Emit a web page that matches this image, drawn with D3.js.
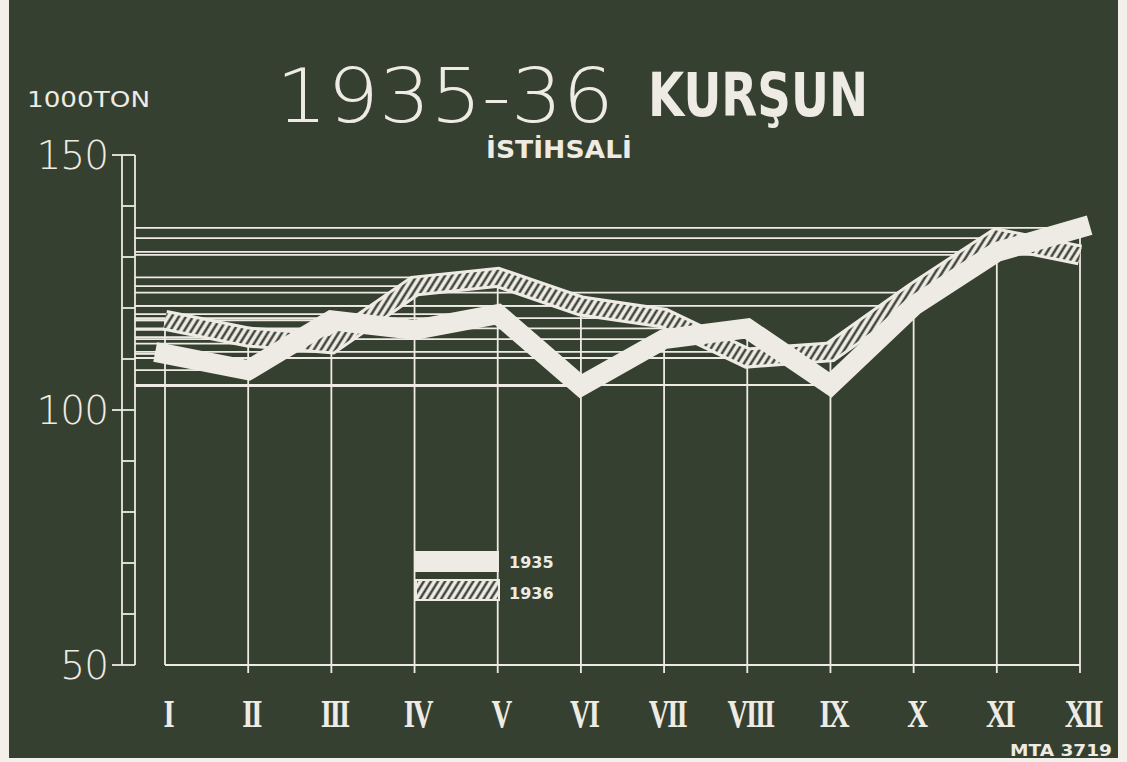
<!DOCTYPE html>
<html>
<head>
<meta charset="utf-8">
<script src="https://cdn.jsdelivr.net/npm/d3@7"></script>
<style>
  html, body { margin: 0; padding: 0; background: #f3f0ec; }
  svg { display: block; }
</style>
</head>
<body>
<svg width="1127" height="762"></svg>
<script>
'use strict';

// month labels (roman numerals as on the board)
const months = ["I", "II", "III", "IV", "V", "VI", "VII", "VIII", "IX", "X", "XI", "XII"];
// production, 1000 ton
const prod1935 = [111, 107.8, 117.6, 115.7, 118.8, 104.7, 113.9, 116, 104.9, 120.4, 131, 135.7];
const prod1936 = [117.6, 114.3, 113, 124.3, 126, 120.4, 118, 110.2, 111.4, 123, 133.7, 130.4];
const yTicks = [50, 60, 70, 80, 90, 100, 110, 120, 130, 140, 150];
const yLabels = [50, 100, 150];
const legendYears = ["1935", "1936"];

const ink = "#eeebe4", board = "#364030";

const svg = d3.select("svg");

svg.append("rect")
    .attr("x", 9).attr("y", 0)
    .attr("width", 1109).attr("height", 758)
    .attr("fill", board);

const defs = svg.append("defs");
const hatch = defs.append("pattern")
    .attr("id", "hatch")
    .attr("patternUnits", "userSpaceOnUse")
    .attr("width", 6).attr("height", 6)
    .attr("patternTransform", "rotate(32)");
hatch.append("rect").attr("width", 6).attr("height", 6).attr("fill", ink);
hatch.append("line")
    .attr("x1", 1.5).attr("x2", 1.5).attr("y1", 0).attr("y2", 6)
    .attr("stroke", "#2c3328").attr("stroke-width", 2.2);

const x = d3.scalePoint().domain(months).range([165, 1080]);
const y = d3.scaleLinear().domain([50, 150]).range([665, 155]);

const axisL = 122, axisR = 135;

// projection lines from the ruler to the values
const g = svg.append("g").attr("stroke", ink).attr("stroke-width", 1.8);
[prod1935, prod1936].forEach(series => {
    g.selectAll(null)
        .data(series)
        .join("line")
        .attr("x1", axisR).attr("x2", (d, i) => x(months[i]))
        .attr("y1", d => y(d)).attr("y2", d => y(d));
});

// verticals up to the higher value of each month
g.selectAll(null)
    .data(months)
    .join("line")
    .attr("x1", d => x(d)).attr("x2", d => x(d))
    .attr("y1", (d, i) => i === 0 ? y(50) : y(50) + 8)
    .attr("y2", (d, i) => y(Math.max(prod1935[i], prod1936[i])));

// baseline
g.append("line")
    .attr("x1", x("I")).attr("x2", x("XII"))
    .attr("y1", y(50)).attr("y2", y(50));

// ruler on the left
g.append("line").attr("x1", axisL).attr("x2", axisL).attr("y1", y(150)).attr("y2", y(50));
g.append("line").attr("x1", axisR).attr("x2", axisR).attr("y1", y(150)).attr("y2", y(50));
g.selectAll(null)
    .data(yTicks)
    .join("line")
    .attr("x1", d => yLabels.includes(d) ? 112 : axisL)
    .attr("x2", axisR)
    .attr("y1", d => y(d)).attr("y2", d => y(d));

svg.selectAll(null)
    .data(yLabels)
    .join("text")
    .attr("x", 108)
    .attr("y", d => y(d) + 14)
    .attr("text-anchor", "end")
    .attr("fill", ink)
    .attr("font-family", "DejaVu Sans")
    .attr("font-weight", 200)
    .attr("font-size", 39)
    .attr("letter-spacing", -1)
    .text(d => d);

// lines
const line = d3.line()
    .x((d, i) => x(months[i]))
    .y(d => y(d));

svg.append("path")
    .datum(prod1936)
    .attr("d", line)
    .attr("fill", "none")
    .attr("stroke", ink)
    .attr("stroke-width", 21)
    .attr("stroke-linejoin", "miter")
    .attr("stroke-linecap", "butt");
svg.append("path")
    .datum(prod1936)
    .attr("d", line)
    .attr("fill", "none")
    .attr("stroke", "url(#hatch)")
    .attr("stroke-width", 15)
    .attr("stroke-linejoin", "miter");

svg.append("path")
    .datum(prod1935)
    .attr("d", line)
    .attr("fill", "none")
    .attr("stroke", ink)
    .attr("stroke-width", 20)
    .attr("stroke-linejoin", "miter")
    .attr("stroke-linecap", "square");

// month labels, tall and narrow
svg.selectAll(null)
    .data(months)
    .join("text")
    .attr("transform", d => `translate(${x(d) + 3},727) scale(0.72,1)`)
    .attr("text-anchor", "middle")
    .attr("fill", ink)
    .attr("font-family", "Liberation Serif")
    .attr("font-weight", "bold")
    .attr("font-size", 40)
    .attr("letter-spacing", -3)
    .text(d => d);

// legend
const legend = svg.append("g");
legend.append("rect")
    .attr("x", 415).attr("y", 551).attr("width", 84).attr("height", 21)
    .attr("fill", ink);
legend.append("rect")
    .attr("x", 416).attr("y", 580).attr("width", 83).attr("height", 20)
    .attr("fill", "url(#hatch)").attr("stroke", ink).attr("stroke-width", 2);
legend.selectAll("text")
    .data(legendYears)
    .join("text")
    .attr("x", 509)
    .attr("y", (d, i) => 568 + i * 31)
    .attr("fill", ink)
    .attr("font-family", "DejaVu Sans")
    .attr("font-weight", "bold")
    .attr("font-size", 16)
    .text(d => d);

// titles
const txt = (s, px, py, size, opts = {}) => svg.append("text")
    .attr("x", px).attr("y", py)
    .attr("fill", ink)
    .attr("font-family", opts.family || "DejaVu Sans")
    .attr("font-weight", opts.weight || "normal")
    .attr("font-size", size)
    .attr("textLength", opts.len)
    .attr("lengthAdjust", "spacingAndGlyphs")
    .text(s);

txt("1935-36", 276, 122, 74, { weight: 200, len: 338 });
txt("KURŞUN", 648, 116, 60, { weight: "bold", len: 220 });
txt("İSTİHSALİ", 486, 158, 24, { weight: "bold", len: 146 });
txt("1000TON", 27, 107, 22, { len: 123 });
txt("MTA 3719", 1010, 756, 16, { weight: "bold", len: 102 });
</script>
</body>
</html>
